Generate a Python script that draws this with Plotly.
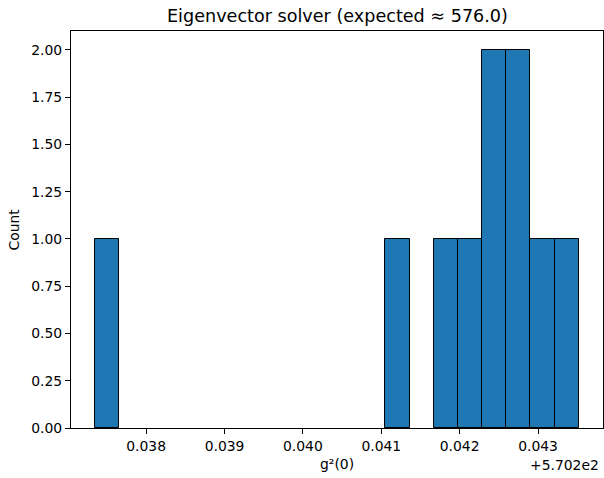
import numpy as np
import plotly.graph_objects as go

# Data (x values shown relative to the axis offset, as in the reference)
offset_label = "+5.702e2"
x_min = 0.03735          # lowest sample (relative to 570.2)
x_max = 0.04352          # highest sample (relative to 570.2)
n_bins = 20
counts = [1, 0, 0, 0, 0, 0, 0, 0, 0, 0, 0, 0, 1, 0, 1, 1, 2, 2, 1, 1]
x_ticks = [0.038, 0.039, 0.040, 0.041, 0.042, 0.043]
y_ticks = [0.0, 0.25, 0.5, 0.75, 1.0, 1.25, 1.5, 1.75, 2.0]

title_text = "Eigenvector solver (expected ≈ 576.0)"
x_label = "g²(0)"
y_label = "Count"

edges = np.linspace(x_min, x_max, n_bins + 1)
bin_w = edges[1] - edges[0]
span = x_max - x_min

# only draw bins that actually contain samples (matplotlib draws no outline for empty bins)
left_edges = [e for e, c in zip(edges[:-1], counts) if c > 0]
nz_counts = [c for c in counts if c > 0]

font = "DejaVu Sans"
fs = 13.9

fig = go.Figure()
fig.add_trace(go.Bar(
    x=left_edges, y=nz_counts, width=bin_w, offset=0,
    marker=dict(color="#1f77b4", line=dict(color="black", width=1)),
    hoverinfo="skip",
))

axis_common = dict(
    showline=True, mirror=True, linecolor="black", linewidth=1,
    ticks="outside", ticklen=5, tickwidth=1, tickcolor="black",
    showgrid=False, zeroline=False,
    tickfont=dict(family=font, size=fs, color="black"),
)

fig.update_layout(
    width=604, height=478,
    margin=dict(l=71, r=1, t=31, b=50),
    paper_bgcolor="white", plot_bgcolor="white",
    showlegend=False, bargap=0,
    font=dict(family=font, size=fs, color="black"),
    xaxis=dict(range=[x_min - 0.05 * span, x_max + 0.05 * span],
               tickvals=x_ticks, tickformat=".3f", **axis_common),
    yaxis=dict(range=[0, 2.1], tickvals=y_ticks, tickformat=".2f", **axis_common),
    annotations=[
        dict(text=title_text, xref="paper", yref="paper", x=0.5, y=1,
             xanchor="center", yanchor="middle", yshift=15, showarrow=False,
             font=dict(family=font, size=17.6, color="black")),
        dict(text=x_label, xref="paper", yref="paper", x=0.5, y=0,
             xanchor="center", yanchor="middle", yshift=-36, showarrow=False,
             font=dict(family=font, size=fs, color="black")),
        dict(text=offset_label, xref="paper", yref="paper", x=1, y=0,
             xanchor="right", yanchor="middle", yshift=-37, xshift=-2, showarrow=False,
             font=dict(family=font, size=fs, color="black")),
        dict(text=y_label, xref="paper", yref="paper", x=0, y=0.5,
             xanchor="center", yanchor="middle", xshift=-58, textangle=-90,
             showarrow=False, font=dict(family=font, size=fs, color="black")),
    ],
)

fig.write_html("out.html")
